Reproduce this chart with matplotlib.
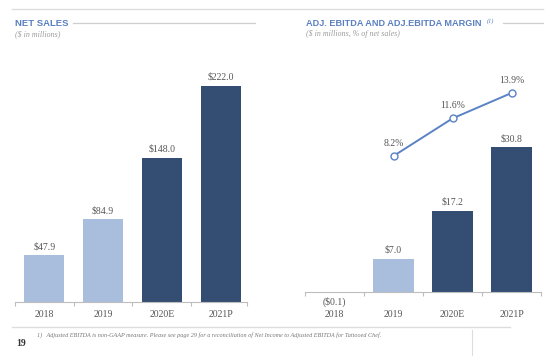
import matplotlib
matplotlib.use("Agg")
import matplotlib.pyplot as plt

# data
years = ["2018", "2019", "2020E", "2021P"]
net_sales = [47.9, 84.9, 148.0, 222.0]
net_sales_labels = ["$47.9", "$84.9", "$148.0", "$222.0"]
ebitda = [-0.1, 7.0, 17.2, 30.8]
ebitda_labels = ["($0.1)", "$7.0", "$17.2", "$30.8"]
margin_years = ["2019", "2020E", "2021P"]
margin = [8.2, 11.6, 13.9]
margin_labels = ["8.2%", "11.6%", "13.9%"]

LIGHT = "#a9bedc"
DARK = "#344e73"
LINE = "#5a82c4"
TITLE = "#5a80c2"
GRAY_TXT = "#555555"
RULE = "#cfcfcf"
bar_colors = [LIGHT, LIGHT, DARK, DARK]

W, H = 558, 360
SERIF = "Liberation Serif"
SANS = "Liberation Sans"


def fx(px):
    return px / W


def fy(py):
    return 1 - py / H


def style_axis(ax, xmax, pad):
    for s in ["top", "right", "left"]:
        ax.spines[s].set_visible(False)
    ax.spines["bottom"].set_color("#bdbdbd")
    ax.spines["bottom"].set_linewidth(0.8)
    ax.set_yticks([])
    ax.set_xticks(range(len(years)))
    ax.set_xticklabels(years, family=SERIF, fontsize=7, color=GRAY_TXT)
    ax.tick_params(axis="x", which="major", length=0, pad=pad)
    ax.set_xticks([-0.5, 0.5, 1.5, 2.5, xmax], minor=True)
    ax.tick_params(axis="x", which="minor", length=3, width=0.8, color="#bdbdbd")
    ax.set_xlim(-0.5, xmax)


fig = plt.figure(figsize=(W / 100, H / 100), dpi=100)

# left chart: net sales
ax1 = fig.add_axes([fx(15), fy(302), fx(247) - fx(15), fy(60) - fy(302)])
ax1.bar(range(len(years)), net_sales, width=0.68, color=bar_colors)
ax1.set_ylim(0, (302 - 60) / 0.973)
style_axis(ax1, 3.45, 6)
for i, v in enumerate(net_sales):
    ax1.annotate(net_sales_labels[i], (i, v), xytext=(0, 3), textcoords="offset points",
                 ha="center", va="bottom", family=SERIF, fontsize=7, color=GRAY_TXT)

# right chart: adj. ebitda + margin
ax2 = fig.add_axes([fx(305), fy(292), fx(541) - fx(305), fy(60) - fy(292)])
ax2.bar(range(len(years)), ebitda, width=0.68, color=bar_colors)
ax2.set_ylim(0, (292 - 60) / 4.7)
style_axis(ax2, 3.5, 13.3)
for i, v in enumerate(ebitda):
    if v < 0:
        ax2.annotate(ebitda_labels[i], (i, 0), xytext=(0, -7.2), textcoords="offset points",
                     ha="center", va="center", family=SERIF, fontsize=7, color=GRAY_TXT)
    else:
        ax2.annotate(ebitda_labels[i], (i, v), xytext=(0, 3), textcoords="offset points",
                     ha="center", va="bottom", family=SERIF, fontsize=7, color=GRAY_TXT)

ax3 = ax2.twinx()
ax3.set_xlim(ax2.get_xlim())
ax3.axis("off")
mx = [years.index(y) for y in margin_years]
ax3.plot(mx, margin, color=LINE, lw=1.4, marker="o", ms=5, mfc="white", mec=LINE, mew=1)
ax3.set_ylim(-(292 - 246.6) / 11.05, (246.6 - 60) / 11.05)
for x, v, lab in zip(mx, margin, margin_labels):
    ax3.annotate(lab, (x, v), xytext=(0, 6), textcoords="offset points",
                 ha="center", va="bottom", family=SERIF, fontsize=7, color=GRAY_TXT)

# header
fig.add_artist(plt.Line2D([fx(12), fx(543)], [fy(9), fy(9)], color="#dddddd", lw=1))
fig.text(fx(15), fy(23), "NET SALES", family=SANS, weight="bold", fontsize=6.8,
         color=TITLE, va="center")
fig.add_artist(plt.Line2D([fx(73), fx(255)], [fy(23), fy(23)], color=RULE, lw=0.9))
fig.text(fx(15), fy(34), "($ in millions)", family=SERIF, style="italic", fontsize=5.7,
         color="#9a9a9a", va="center")

fig.text(fx(306), fy(23), "ADJ. EBITDA AND ADJ.EBITDA MARGIN", family=SANS, weight="bold",
         fontsize=6.6, color=TITLE, va="center")
fig.text(fx(487), fy(21), "(1)", family=SERIF, style="italic", fontsize=4.5,
         color=TITLE, va="center")
fig.add_artist(plt.Line2D([fx(503), fx(543)], [fy(23), fy(23)], color=RULE, lw=0.9))
fig.text(fx(306), fy(34), "($ in millions, % of net sales)", family=SERIF, style="italic",
         fontsize=5.7, color="#9a9a9a", va="center")

# footer
fig.add_artist(plt.Line2D([fx(12), fx(510)], [fy(327), fy(327)], color="#dddddd", lw=1))
fig.text(fx(37), fy(335), "1)   Adjusted EBITDA is non-GAAP measure. Please see page 29 for a "
         "reconciliation of Net Income to Adjusted EBITDA for Tattooed Chef.",
         family=SERIF, style="italic", fontsize=4.4, color="#777777", va="center")
fig.text(fx(16), fy(344), "19", family=SERIF, weight="bold", fontsize=7, color="#333333",
         va="center")
fig.add_artist(plt.Line2D([fx(472), fx(472)], [fy(330), fy(355)], color="#dddddd", lw=0.8))

fig.savefig("out.png", dpi=100)
